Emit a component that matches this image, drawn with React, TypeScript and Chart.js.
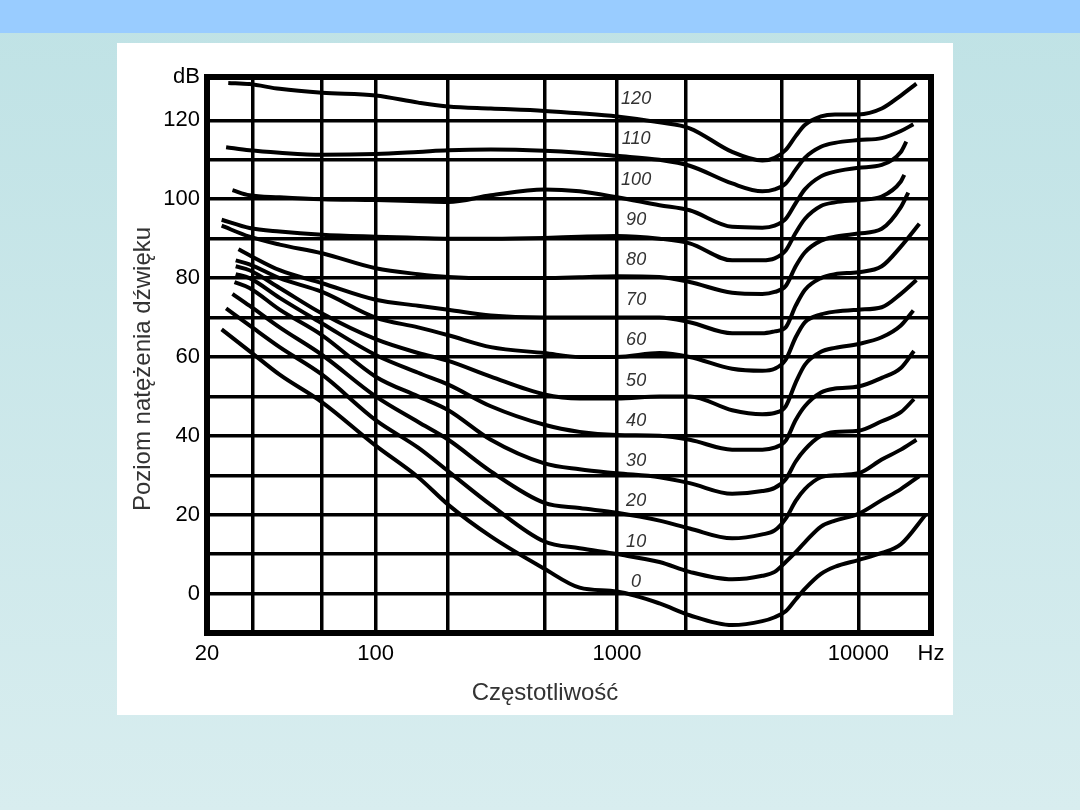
import React, { useEffect, useRef } from 'react';
import { Chart, registerables } from 'chart.js';

Chart.register(...registerables);

// Loudness levels (phon) of the 13 equal-loudness contours
const PHON = [0, 10, 20, 30, 40, 50, 60, 70, 80, 90, 100, 110, 120];

// Shared interior frequencies (Hz)
const FREQ = [30, 40, 60, 100, 150, 200, 300, 500, 700, 1000, 1500, 2000, 3000, 4000, 4500, 5000, 5500, 6000, 7000, 8000, 10000, 12500, 15000];

// Where each contour starts and ends (Hz, dB)
const START_HZ = [23, 24, 25.5, 26, 26.3, 26.3, 26.3, 27, 23, 23, 25.5, 24, 24.5];
const START_DB = [67, 72.3, 76, 79, 81, 83, 84.5, 87.3, 93.3, 94.8, 102.3, 113.2, 129.5];
const END_HZ = [19000, 17900, 17400, 17000, 17000, 16900, 17400, 17900, 16100, 15500, 15800, 16900, 17400];
const END_DB = [20, 29.8, 39, 49.3, 61.5, 71.8, 79.5, 93.8, 101.7, 106.2, 114.6, 119, 129.3];

// Sound pressure level (dB) of each contour at FREQ
const DB_0 = [61.5, 55.5, 48.5, 37.5, 29.5, 22.5, 14.5, 6.3, 1.5, 0.5, -2.5, -5.5, -8, -7, -6, -4.5, -1.5, 1.2, 5, 6.8, 8.5, 10.3, 12.5];
const DB_10 = [68, 62.5, 55.5, 44, 37, 31, 22.5, 13.2, 11.5, 10, 8, 5.5, 3.6, 4.5, 5.5, 8, 10.5, 13, 17, 18.5, 20.2, 23.7, 26.5];
const DB_20 = [73, 67.5, 60.5, 50, 43.5, 39, 31, 23, 21.7, 20.5, 18.5, 16.5, 14, 15, 16, 19, 23.5, 26.5, 29.5, 30, 30.5, 34, 36.5];
const DB_30 = [77.5, 72, 65.5, 55, 50, 46.5, 39, 33, 31.5, 30.5, 29.5, 28, 25.3, 26, 26.8, 29, 33.5, 36.5, 40, 41, 41.3, 43.7, 46];
const DB_40 = [80, 75, 68.5, 60.5, 56, 53, 47.5, 42.8, 41, 40.2, 40, 39, 36.5, 36.5, 37, 38.8, 44, 47.5, 51, 52, 52.5, 54.7, 57.2];
const DB_50 = [82, 77.5, 71, 64.5, 61, 59, 55, 50.5, 49.5, 49.5, 50, 50, 46.5, 45.5, 45.8, 47.5, 53.5, 58, 61.3, 62.3, 63.3, 65, 68];
const DB_60 = [83.5, 80, 76.5, 70, 67.5, 65.5, 62.5, 61, 60, 60, 61, 60, 57, 56.5, 57, 59.3, 65, 68.8, 70.8, 71.5, 72, 72.6, 76];
const DB_70 = [85.8, 82, 78.7, 74.5, 73, 72, 70.5, 70, 70, 70, 70, 68.8, 66, 66, 66.5, 67.5, 73, 77, 80, 81, 81.5, 83, 88];
const DB_80 = [90.5, 88.5, 86.3, 82.5, 81, 80.3, 80, 80, 80.2, 80.5, 80.3, 79, 76.3, 76, 76.5, 78, 83, 86.5, 89.5, 90.5, 91.3, 92.5, 98];
const DB_90 = [92.7, 91.8, 91, 90.5, 90.2, 90, 90, 90.2, 90.5, 90.7, 90, 88.8, 84.5, 84.5, 85, 87, 91.5, 95, 98.3, 99.2, 99.8, 100.7, 104.5];
const DB_100 = [101, 100.5, 100, 99.8, 99.5, 99.3, 101, 102.5, 102, 100.5, 98.5, 97.2, 93, 92.8, 93.3, 95, 99, 102.5, 105.8, 107, 108, 108.7, 112];
const DB_110 = [112.4, 111.8, 111.3, 111.5, 112, 112.4, 112.6, 112.3, 111.8, 111, 110, 108.5, 104, 102, 102.5, 104, 107.5, 110.5, 113.3, 114.3, 115, 115.5, 117.3];
const DB_120 = [129.2, 128, 127, 126.3, 124.5, 123.5, 123, 122.4, 121.8, 121, 119.5, 118, 112, 109.8, 110.5, 112.5, 116, 118.8, 121, 121.5, 121.5, 123, 126.3];

const CURVE_DB = [DB_0, DB_10, DB_20, DB_30, DB_40, DB_50, DB_60, DB_70, DB_80, DB_90, DB_100, DB_110, DB_120];

// Axis grid / tick values (grid as drawn in the original figure)
const X_GRID = [20, 31, 60, 100, 198, 500, 1000, 1935, 4820, 10000, 20000];
const X_TICK_LABELS = ['20', '', '', '100', '', '', '1000', '', '', '10000', 'Hz'];
const Y_GRID = [-10, 0, 10, 20, 30, 40, 50, 60, 70, 80, 90, 100, 110, 120, 131];
const Y_TICK_LABELS = ['', '0', '', '20', '', '40', '', '60', '', '80', '', '100', '', '120', 'dB'];

const X_TITLE = 'Częstotliwość';
const Y_TITLE = 'Poziom natężenia dźwięku';
const LABEL_HZ = 1200;

const FONT = "'Liberation Sans', Arial, Helvetica, sans-serif";

export default function App() {
  const canvasRef = useRef<HTMLCanvasElement | null>(null);

  useEffect(() => {
    const canvas = canvasRef.current;
    if (!canvas) return;

    const datasets = PHON.map((p, i) => ({
      label: String(p),
      data: [
        { x: START_HZ[i], y: START_DB[i] },
        ...FREQ.map((f, j) => ({ x: f, y: CURVE_DB[i][j] })),
        { x: END_HZ[i], y: END_DB[i] },
      ],
      borderColor: '#000',
      borderWidth: 4,
      pointRadius: 0,
      fill: false,
      cubicInterpolationMode: 'monotone' as const,
    }));

    const decor = {
      id: 'decor',
      afterDatasetsDraw(chart: any) {
        const { ctx, chartArea, scales } = chart;
        const xs = scales.x;
        const ys = scales.y;
        ctx.save();
        // frame
        ctx.strokeStyle = '#000';
        ctx.lineWidth = 6;
        ctx.strokeRect(chartArea.left, chartArea.top, chartArea.right - chartArea.left, chartArea.bottom - chartArea.top);
        // contour labels
        ctx.fillStyle = '#333';
        ctx.font = `italic 18px ${FONT}`;
        ctx.textAlign = 'center';
        ctx.textBaseline = 'middle';
        PHON.forEach((p) => {
          const x = xs.getPixelForValue(LABEL_HZ);
          const y = ys.getPixelForValue(p + 3 + p * 0.02);
          ctx.fillText(String(p), x, y);
        });
        // axis titles
        ctx.fillStyle = '#333';
        ctx.font = `24px ${FONT}`;
        ctx.textAlign = 'center';
        ctx.textBaseline = 'alphabetic';
        ctx.fillText(X_TITLE, 428, 657);
        ctx.translate(33, 326);
        ctx.rotate(-Math.PI / 2);
        ctx.fillText(Y_TITLE, 0, 0);
        ctx.restore();
      },
    };

    const chart = new Chart(canvas, {
      type: 'line',
      data: { datasets },
      options: {
        animation: false,
        responsive: false,
        devicePixelRatio: 1,
        events: [],
        layout: { padding: { top: 34, right: 22, left: 0, bottom: 0 } },
        plugins: { legend: { display: false }, tooltip: { enabled: false }, title: { display: false } },
        scales: {
          x: {
            type: 'logarithmic',
            min: 20,
            max: 20000,
            afterBuildTicks: (scale: any) => {
              scale.ticks = X_GRID.map((v) => ({ value: v }));
            },
            afterFit: (scale: any) => {
              scale.height = 82;
            },
            ticks: {
              autoSkip: false,
              maxRotation: 0,
              padding: 8,
              color: '#000',
              font: { family: FONT, size: 22 },
              callback: (_v: any, i: number) => X_TICK_LABELS[i],
            },
            grid: { color: '#000', lineWidth: 3.5, drawTicks: false },
            border: { display: false },
          },
          y: {
            type: 'linear',
            min: -10,
            max: 131,
            afterBuildTicks: (scale: any) => {
              scale.ticks = Y_GRID.map((v) => ({ value: v }));
            },
            afterFit: (scale: any) => {
              scale.width = 90;
            },
            ticks: {
              autoSkip: false,
              padding: 7,
              color: '#000',
              font: { family: FONT, size: 22 },
              callback: (_v: any, i: number) => Y_TICK_LABELS[i],
            },
            grid: { color: '#000', lineWidth: 3.5, drawTicks: false },
            border: { display: false },
          },
        },
      },
      plugins: [decor],
    } as any);

    return () => chart.destroy();
  }, []);

  return (
    <div
      style={{
        position: 'absolute',
        left: 0,
        top: 0,
        width: 1080,
        height: 810,
        overflow: 'hidden',
        background: 'linear-gradient(180deg, #BFE2E5 0%, #D8EDEF 100%)',
      }}
    >
      <div style={{ position: 'absolute', left: 0, top: 0, width: 1080, height: 33, background: '#99CCFF' }} />
      <div style={{ position: 'absolute', left: 117, top: 43, width: 836, height: 672, background: '#FFFFFF' }}>
        <canvas ref={canvasRef} width={836} height={672} style={{ display: 'block', width: 836, height: 672 }} />
      </div>
    </div>
  );
}
